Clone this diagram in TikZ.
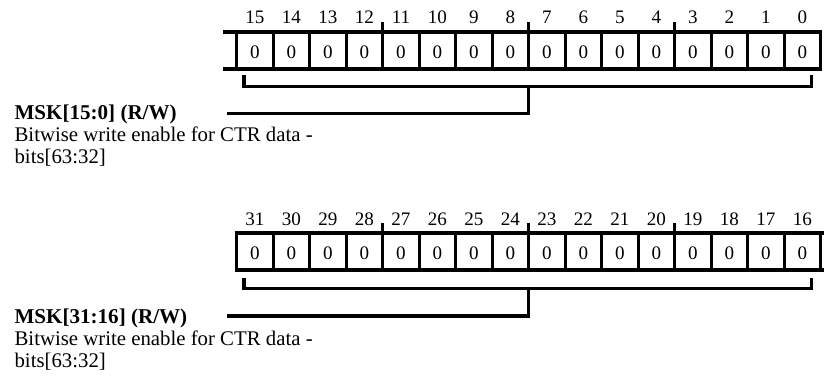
\documentclass[tikz,border=0pt]{standalone}
\usepackage{fontspec}
\setmainfont{Liberation Serif}
\begin{document}
\begin{tikzpicture}[x=0.75pt,y=-0.75pt,line width=2.4pt,
  cellbox/.style={draw,rectangle,minimum width=27.375pt,minimum height=27.75pt,inner sep=0pt,outer sep=0pt},
  zero/.style={font=\fontsize{14.3}{16}\selectfont,inner sep=0pt},
  bitnum/.style={font=\fontsize{14.3}{16}\selectfont,inner sep=0pt,anchor=base},
  title/.style={font=\fontsize{15.8}{18}\selectfont\bfseries,inner sep=0pt,anchor=base west},
  desc/.style={font=\fontsize{15.6}{18}\selectfont,inner sep=0pt,anchor=base west},
  tick/.style={line cap=butt},
  brk/.style={line join=miter}
]
\useasboundingbox (0,0) rectangle (824,383);
% ---------- register 1 ----------
\foreach \i in {0,...,15}{
  \pgfmathtruncatemacro{\bn}{15-\i}
  \node[cellbox] (a\i) at ({236.7+36.5*(\i+0.5)},50.5) {};
  \node[zero] (za\i) at ([yshift=-1.6pt]a\i.center) {0};
  \node[bitnum] (na\i) at ({236.7+36.5*(\i+0.5)},23.3) {\bn};
}
\draw (a0.north west) ++(-13.7,0) coordinate (a0tl) -- (a15.north east);
\draw (a0.south west) ++(-13.7,0) coordinate (a0bl) -- (a15.south east);
\foreach \i in {4,8,12}{
  \draw[tick] (a\i.north west) -- ++(0,-10);
}
\coordinate (abl) at ([xshift=5.5pt,yshift=-4.5pt]a0.south west);
\coordinate (abr) at ([xshift=-6.75pt,yshift=-4.5pt]a15.south east);
\coordinate (astem) at ([yshift=-13.3pt]a8.south west);
\node[title] (ta) at (13,119.3) {MSK[15:0] (R/W)};
\node[desc] (da) at (13,141.6) {Bitwise write enable for CTR data -};
\node[desc] (ea) at (13,163.4) {bits[63:32]};
\coordinate (aend) at (227,113.3);
\draw[brk] (abl) -- ++(0,11.7) -| (abr);
\draw[brk] (a8.south west |- 0,86.7) -- (astem |- aend) -- (aend);
% ---------- register 2 ----------
\foreach \i in {0,...,15}{
  \pgfmathtruncatemacro{\bn}{31-\i}
  \node[cellbox] (b\i) at ({236.7+36.5*(\i+0.5)},251.4) {};
  \node[zero] (zb\i) at ([yshift=-1.6pt]b\i.center) {0};
  \node[bitnum] (nb\i) at ({236.7+36.5*(\i+0.5)},225) {\bn};
}
\draw (b0.north west) -- (b15.north east) -- ++(3.3,0);
\draw (b0.south west) -- (b15.south east) -- ++(3.3,0);
\foreach \i in {4,8,12}{
  \draw[tick] (b\i.north west) -- ++(0,-10);
}
\coordinate (bbl) at ([xshift=5.5pt,yshift=-6pt]b0.south west);
\coordinate (bbr) at ([xshift=-6.75pt,yshift=-6pt]b15.south east);
\node[title] (tb) at (13,323.5) {MSK[31:16] (R/W)};
\node[desc] (db) at (13,345.8) {Bitwise write enable for CTR data -};
\node[desc] (eb) at (13,367.6) {bits[63:32]};
\coordinate (bend) at (227,316);
\draw[brk] (bbl) -- ++(0,10.3) -| (bbr);
\draw[brk] (b8.south west |- 0,288.3) -- (b8.south west |- bend) -- (bend);
\end{tikzpicture}
\end{document}
